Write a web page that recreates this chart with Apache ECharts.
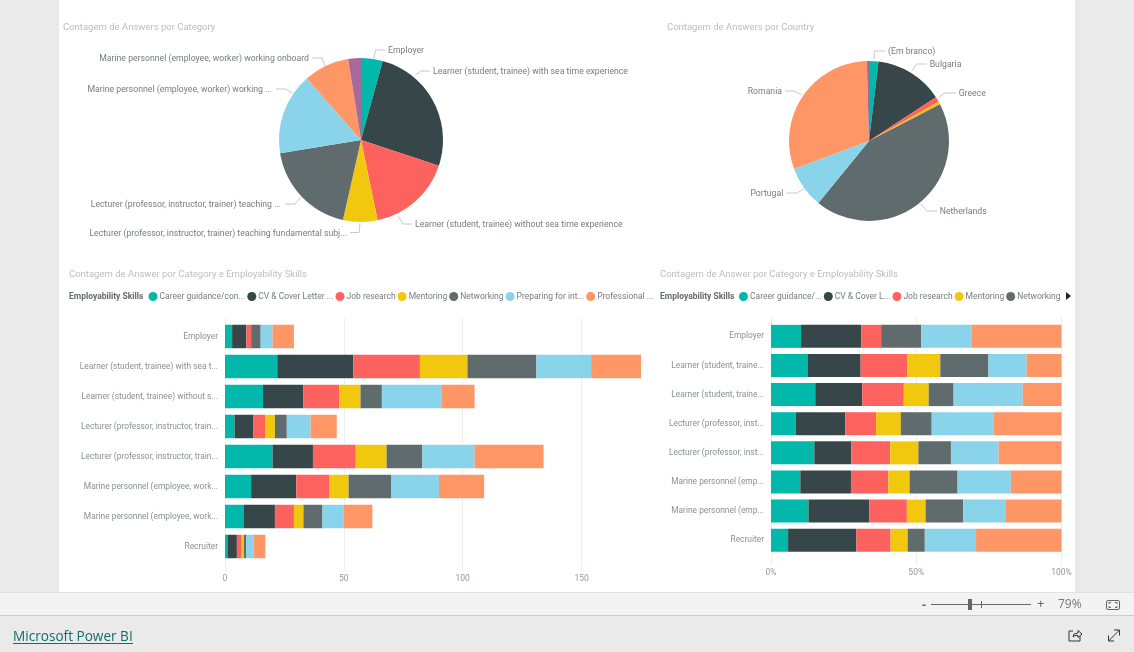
<!DOCTYPE html>
<html><head><meta charset="utf-8">
<style>html,body{margin:0;padding:0;background:#eaeaea;overflow:hidden}#c{width:1134px;height:652px}</style>
<script src="https://cdn.jsdelivr.net/npm/echarts@6/dist/echarts.min.js"></script>
</head><body><div id="c"></div>
<script>
const categoryPieLabels = ['Employer','Learner (student, trainee) with sea time experience','Learner (student, trainee) without sea time experience','Lecturer (professor, instructor, trainer) teaching fundamental subj...','Lecturer (professor, instructor, trainer) teaching ...','Marine personnel (employee, worker) working ...','Marine personnel (employee, worker) working onboard','Recruiter'];
const categoryPieValues = [29,175,113,46,128,109,61,17];
const categoriesLeft = ['Employer','Learner (student, trainee) with sea t...','Learner (student, trainee) without s...','Lecturer (professor, instructor, train...','Lecturer (professor, instructor, train...','Marine personnel (employee, work...','Marine personnel (employee, work...','Recruiter'];
const categoriesRight = ['Employer','Learner (student, traine...','Learner (student, traine...','Lecturer (professor, inst...','Lecturer (professor, inst...','Marine personnel (emp...','Marine personnel (emp...','Recruiter'];
const skillsLeft = ['Career guidance/con...','CV & Cover Letter ...','Job research','Mentoring','Networking','Preparing for int...','Professional ...'];
const skillsRight = ['Career guidance/...','CV & Cover L...','Job research','Mentoring','Networking'];
const careerGuidance = [3,22,16,4,20,11,8,1];
const cvCover = [6,32,17,8,17,19,13,4];
const jobResearch = [2,28,15,5,18,14,8,2];
const mentoring = [0,20,9,4,13,8,4,1];
const networking = [4,29,9,5,15,18,8,1];
const preparing = [5,23,25,10,22,20,9,3];
const professional = [9,21,14,11,29,19,12,5];
const countries = ['(Em branco)','Bulgaria','Greece','','Netherlands','Portugal','Romania',' '];
const countryValues = [13,94,7,4,295,57,205,3];
const palette = ['#01B8AA','#374649','#FD625E','#F2C80F','#5F6B6D','#8AD4EB','#FE9666','#A66999'];

const stacks = [careerGuidance,cvCover,jobResearch,mentoring,networking,preparing,professional];
const totals = categoriesLeft.map((_,i)=>stacks.reduce((s,a)=>s+a[i],0));
const FONT = 'Roboto';
const lblCol = '#777c80';

// label placement: [align, label x, label y, guide line points]
const catLabelPos = [
  ['left',388,51,[[374,58],[375.5,50],[385,50]]],
  ['left',433,72,[[415.5,75],[421,71],[430,71]]],
  ['left',415,225,[[398,216],[403,224],[412,224]]],
  ['right',347,233.5,[[360,223],[359,232.5],[350,232.5]]],
  ['right',281,205,[[301,197],[295,204],[285,204]]],
  ['right',272,90,[[292,93],[286,89],[276,89]]],
  ['right',309,59,[[325,66],[322,58],[312,58]]],
  null];
const countryLabelPos = [
  ['left',888,52,[[874.3,59.3],[874.3,51],[885,51]]],
  ['left',929.7,65,[[912,70.7],[916.7,64],[927,64]]],
  ['left',958.7,94,[[939,97],[945,93],[956,93]]],
  null,
  ['left',939.7,212,[[921,204],[926.7,211],[937,211]]],
  ['right',783.3,194,[[804.3,188.3],[797.3,193],[786.5,193]]],
  ['right',782,92,[[801.7,95],[794.3,91],[785,91]]],
  null];

function pieSeries(names, values, center, radius, pos){
  return {type:'pie',center,radius,startAngle:90,clockwise:true,animation:false,silent:true,
    minShowLabelAngle:0,avoidLabelOverlap:false,
    itemStyle:{borderWidth:0},
    label:{fontFamily:FONT,fontSize:8.7,color:lblCol},
    labelLine:{lineStyle:{color:'#c8c8c8',width:1},smooth:false},
    labelLayout:function(p){
      const q = pos[p.dataIndex];
      if(!q) return {};
      return {x:q[1],y:q[2],align:q[0],verticalAlign:'middle',labelLinePoints:q[3]};
    },
    data:names.map((n,i)=>({name:n,value:values[i],itemStyle:{color:palette[i]},
        label:{show:!!pos[i]},labelLine:{show:!!pos[i]}}))};
}
const series = [
  pieSeries(categoryPieLabels, categoryPieValues, [361,140], 82, catLabelPos),
  pieSeries(countries, countryValues, [869,141], 80, countryLabelPos)
];
stacks.forEach((arr,k)=>{
  series.push({type:'bar',name:skillsLeft[k],xAxisIndex:0,yAxisIndex:0,stack:'a',barWidth:23.5,animation:false,silent:true,
    itemStyle:{color:palette[k]},data:arr});
  series.push({type:'bar',name:k<5?skillsRight[k]:skillsLeft[k],xAxisIndex:2,yAxisIndex:2,stack:'b',barWidth:23,animation:false,silent:true,
    itemStyle:{color:palette[k]},data:arr.map((v,i)=>v/totals[i]*100)});
});
const hiddenVal = i=>({type:'value',gridIndex:i,min:0,max:1,show:false});
const cat = (i,labels)=>({type:'category',gridIndex:i,inverse:true,data:labels,
  axisLine:{show:false},axisTick:{show:false},splitLine:{show:false},
  axisLabel:{interval:0,margin:7,fontFamily:FONT,fontSize:8.4,color:'#8c9094',padding:[2,0,0,0]}});
const legendBase = {icon:'circle',itemWidth:9,itemHeight:9,top:292,padding:0,selectedMode:false,
  textStyle:{fontFamily:FONT,fontSize:8.5,color:lblCol,padding:[0,0,0,-3]}};
const txt = (x,y,t,style)=>({type:'text',x,y,silent:true,z:5,style:Object.assign({text:t,fontFamily:FONT,fontSize:9.5,fill:'#bdbdbd',verticalAlign:'middle'},style||{})});
const rect = (x,y,w,h,fill,z)=>({type:'rect',silent:true,z:z==null?0:z,shape:{x,y,width:w,height:h},style:{fill}});
const line = (x1,y1,x2,y2,c,w)=>({type:'line',silent:true,z:5,shape:{x1,y1,x2,y2},style:{stroke:c,lineWidth:w||1,fill:null}});
const poly = (pts,c,w)=>({type:'polyline',silent:true,z:5,shape:{points:pts},style:{stroke:c,lineWidth:w||1,fill:null}});
const graphic = [
  rect(59,0,1016,592,'#ffffff'),
  rect(0,592,1134,23,'#f3f3f3'),
  rect(0,592,1134,1,'#e2e2e2'),
  rect(0,615,1134,1,'#cbcbcb'),
  txt(63,28,'Contagem de Answers por Category'),
  txt(667,28,'Contagem de Answers por Country'),
  txt(69,275,'Contagem de Answer por Category e Employability Skills'),
  txt(660,275,'Contagem de Answer por Category e Employability Skills'),
  txt(69,297,'Employability Skills',{fontSize:8.5,fontWeight:'bold',fill:'#666a6d'}),
  txt(660,297,'Employability Skills',{fontSize:8.5,fontWeight:'bold',fill:'#666a6d'}),
  {type:'polygon',silent:true,z:5,shape:{points:[[1066,292],[1071,296],[1066,300]]},style:{fill:'#222'}},
  txt(922,605,'-',{fontFamily:'Open Sans',fontSize:13,fontWeight:'bold',fill:'#666'}),
  line(931,604.5,1031,604.5,'#666'),
  rect(968,599,4,11,'#666',5),
  line(981.5,601,981.5,608,'#666'),
  txt(1037,604,'+',{fontFamily:'Open Sans',fontSize:13,fill:'#666'}),
  txt(1058,605,'79%',{fontFamily:'Open Sans',fontSize:12,fill:'#777'}),
  {type:'rect',silent:true,z:5,shape:{x:1106.5,y:600.5,width:13,height:9,r:1.5},style:{stroke:'#666',fill:null,lineWidth:1}},
  poly([[1109,604],[1109,602.5],[1111,602.5]],'#666'),
  poly([[1115,602.5],[1117,602.5],[1117,604]],'#666'),
  poly([[1109,606],[1109,607.5],[1111,607.5]],'#666'),
  poly([[1115,607.5],[1117,607.5],[1117,606]],'#666'),
  txt(13,637,'Microsoft Power BI',{fontFamily:'Open Sans',fontSize:13.6,fill:'#0f6f6a'}),
  line(13,643.5,133,643.5,'#0f6f6a'),
  poly([[1073,631],[1069,631],[1069,641],[1080,641],[1080,636]],'#333'),
  poly([[1073,637],[1074,634],[1078,633],[1078,630.5],[1082,634],[1078,637.5],[1078,635.5],[1075,635.5],[1073,637]],'#333'),
  line(1108.5,641,1119.5,630,'#333'),
  poly([[1114,630],[1119.5,630],[1119.5,635.5]],'#333'),
  poly([[1108.5,635.5],[1108.5,641],[1114,641]],'#333')
];
const option = {
  animation:false,
  graphic,
  legend:[
    Object.assign({},legendBase,{left:148.5,itemGap:2,data:skillsLeft}),
    Object.assign({},legendBase,{left:739,itemGap:2,data:skillsRight})
  ],
  grid:[
    {left:225,width:416,top:321.5,height:240},
    {left:225,width:416,top:318,height:253},
    {left:771,width:290.5,top:321.8,height:233},
    {left:771,width:290.5,top:316,height:249}
  ],
  xAxis:[
    {type:'value',gridIndex:0,min:0,max:175,interval:50,show:false},
    {type:'value',gridIndex:1,min:0,max:175,interval:50,axisLine:{show:false},axisTick:{show:false},
      splitLine:{show:true,showMaxLine:false,lineStyle:{color:'#eeeeee'}},
      axisLabel:{showMaxLabel:false,margin:3,fontFamily:FONT,fontSize:8.5,color:'#8f9a9e'}},
    {type:'value',gridIndex:2,min:0,max:100,interval:50,show:false},
    {type:'value',gridIndex:3,min:0,max:100,interval:50,axisLine:{show:false},axisTick:{show:false},
      splitLine:{show:true,lineStyle:{color:'#eeeeee'}},
      axisLabel:{margin:3,fontFamily:FONT,fontSize:8.5,color:'#8f9a9e',formatter:'{value}%'}}
  ],
  yAxis:[cat(0,categoriesLeft),hiddenVal(1),cat(2,categoriesRight),hiddenVal(3)],
  series
};
const chart = echarts.init(document.getElementById('c'),null,{renderer:'canvas'});
chart.setOption(option);
</script></body></html>
